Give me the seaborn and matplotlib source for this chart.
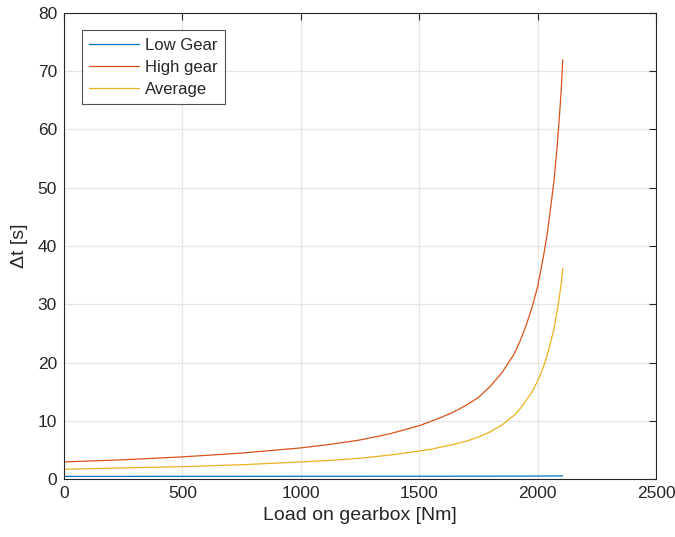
import numpy as np
import pandas as pd
import seaborn as sns
import matplotlib.pyplot as plt

# values
load = [0, 250, 500, 750, 1000, 1125, 1250, 1375, 1500, 1550, 1600, 1650, 1700,
        1750, 1800, 1850, 1900, 1925, 1950, 1975, 2000, 2025, 2040, 2050, 2060,
        2070, 2080, 2088, 2095, 2100, 2106]
low_gear = [0.45, 0.45, 0.46, 0.46, 0.47, 0.47, 0.47, 0.48, 0.48, 0.48, 0.48, 0.48, 0.49,
            0.49, 0.49, 0.50, 0.50, 0.50, 0.50, 0.51, 0.51, 0.51, 0.52, 0.52, 0.52,
            0.52, 0.53, 0.53, 0.54, 0.54, 0.55]
high_gear = [2.93, 3.3, 3.8, 4.45, 5.34, 5.95, 6.7, 7.75, 9.15, 9.9, 10.7, 11.6, 12.7,
             14.0, 15.9, 18.3, 21.4, 23.6, 26.2, 29.3, 33.0, 38.3, 42.0, 45.0, 48.2,
             51.5, 56.0, 60.0, 64.0, 67.0, 72.0]
average = [1.67, 1.9, 2.12, 2.45, 2.93, 3.2, 3.57, 4.1, 4.8, 5.1, 5.55, 6.0, 6.5,
           7.2, 8.1, 9.3, 10.9, 12.0, 13.4, 14.9, 16.8, 19.3, 21.2, 22.7, 24.3,
           26.0, 28.2, 30.2, 32.2, 33.7, 36.2]

names = ['Low Gear', 'High gear', 'Average']
colors = ['#0072BD', '#D95319', '#EDB120']

df = pd.concat([
    pd.DataFrame({'load': load, 'dt': vals, 'series': name})
    for name, vals in zip(names, [low_gear, high_gear, average])
])

sns.set_style('white')
plt.rcParams['font.family'] = ['Liberation Sans', 'DejaVu Sans']

fig = plt.figure(figsize=(6.75, 5.37), dpi=100)
ax = fig.add_axes([0.0948, 0.108, 0.8771, 0.8678])

sns.lineplot(data=df, x='load', y='dt', hue='series', hue_order=names,
             palette=dict(zip(names, colors)), linewidth=0.9, ax=ax)

ax.set_xlim(0, 2500)
ax.set_ylim(0, 80)
ax.set_xticks(range(0, 2501, 500))
ax.set_yticks(range(0, 81, 10))
ax.grid(True, color='#e6e6e6', linewidth=0.9)
ax.set_axisbelow(True)
for s in ax.spines.values():
    s.set_color('#262626')
    s.set_linewidth(0.8)
ax.tick_params(direction='in', top=True, right=True, length=5, width=0.8,
               color='#262626', labelsize=12.5, labelcolor='#262626', pad=5)

ax.set_xlabel('Load on gearbox [Nm]', fontsize=14, color='#262626', labelpad=4)
ax.set_ylabel('Δt [s]', fontsize=14, color='#262626', labelpad=7)

leg = ax.legend(loc='upper left', bbox_to_anchor=(0.03, 0.963), fontsize=12,
                frameon=True, fancybox=False, handlelength=3.0,
                handletextpad=0.35, borderpad=0.45, labelspacing=0.42,
                borderaxespad=0.0)
leg.get_frame().set_edgecolor('#262626')
leg.get_frame().set_linewidth(0.8)

fig.savefig('out.png', dpi=100)
